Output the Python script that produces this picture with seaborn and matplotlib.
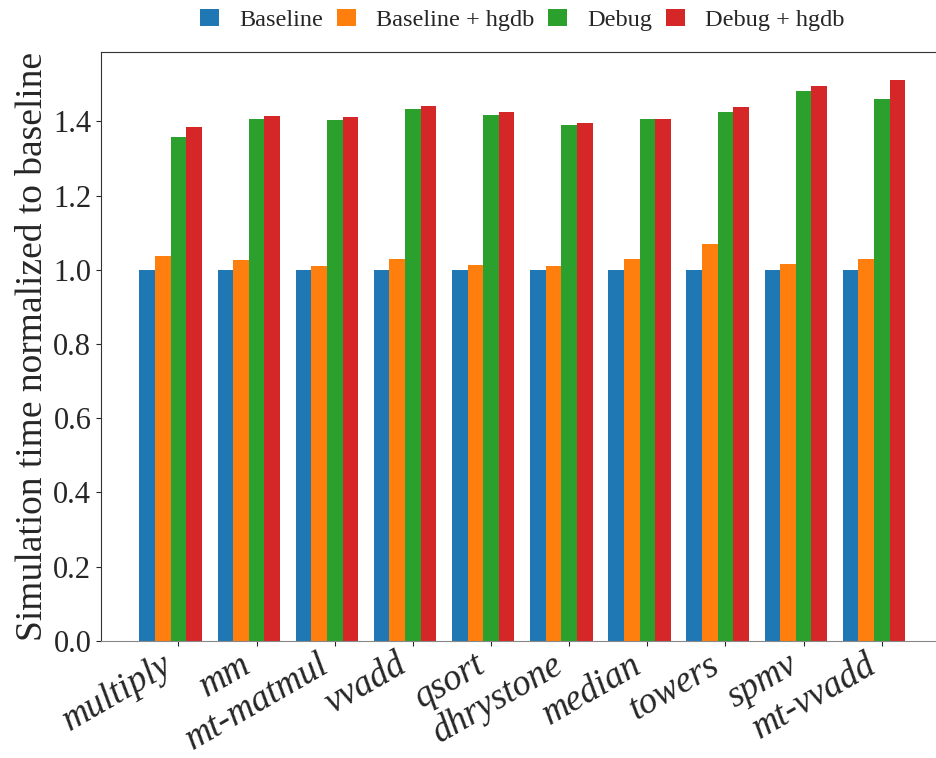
"""
Simulation time of each benchmark, normalized to the baseline run.
Grouped bars, one group per benchmark, saved to out.png.
"""

import numpy as np
import pandas as pd
import matplotlib
matplotlib.use("Agg")
import matplotlib.pyplot as plt
import seaborn as sns

BENCHMARKS = ["multiply", "mm", "mt-matmul", "vvadd", "qsort",
              "dhrystone", "median", "towers", "spmv", "mt-vvadd"]
CONFIGS    = ["Baseline", "Baseline + hgdb", "Debug", "Debug + hgdb"]

baseline      = [1.0, 1.0, 1.0, 1.0, 1.0, 1.0, 1.0, 1.0, 1.0, 1.0]
baseline_hgdb = [1.038, 1.026, 1.011, 1.029, 1.014,
                 1.011, 1.030, 1.068, 1.015, 1.030]
debug         = [1.359, 1.406, 1.404, 1.434, 1.418,
                 1.391, 1.406, 1.426, 1.483, 1.460]
debug_hgdb    = [1.385, 1.414, 1.411, 1.442, 1.424,
                 1.396, 1.406, 1.438, 1.495, 1.512]

YTICKS = [0.0, 0.2, 0.4, 0.6, 0.8, 1.0, 1.2, 1.4]
COLORS = ["#1f77b4", "#ff7f0e", "#2ca02c", "#d62728"]


def build_frame():
    rows = []
    for cfg, vals in zip(CONFIGS, [baseline, baseline_hgdb, debug, debug_hgdb]):
        for bench, v in zip(BENCHMARKS, vals):
            rows.append({"benchmark": bench, "config": cfg, "time": v})
    return pd.DataFrame(rows)


def main():
    df = build_frame()

    sns.set_style("ticks")
    plt.rcParams["font.family"] = ["Liberation Serif", "DejaVu Serif"]

    fig = plt.figure(figsize=(9.36, 7.58), dpi=100)
    # axes run slightly past the right edge, as in the cropped original
    ax = fig.add_axes([0.108, 0.1547, 0.9, 0.7771])

    sns.barplot(data=df, x="benchmark", y="time", hue="config",
                order=BENCHMARKS, hue_order=CONFIGS, palette=COLORS,
                saturation=1, width=0.8, linewidth=0, ax=ax)

    ymax = max(max(debug_hgdb), max(debug))
    ax.set_ylim(0, ymax * 1.05)
    ax.set_xlim(-0.89, len(BENCHMARKS) - 1 + 0.89)

    ax.set_xticks(np.arange(len(BENCHMARKS)) + 0.1)
    ax.set_xticklabels(BENCHMARKS, rotation=30, ha="right",
                       fontsize=26.5, fontstyle="italic")
    ax.tick_params(axis="x", pad=1.5)
    ax.set_yticks(YTICKS)
    ax.set_yticklabels([f"{t:.1f}" for t in YTICKS], fontsize=22)
    ax.set_xlabel("")
    ax.set_ylabel("Simulation time normalized to baseline", fontsize=27,
                  labelpad=2)

    for side in ["top", "left", "right"]:
        ax.spines[side].set_visible(True)
        ax.spines[side].set_color("#333333")
    ax.spines["bottom"].set_color("#888888")

    ax.legend(loc="lower center", bbox_to_anchor=(0.5, 1.01), ncol=4,
              frameon=False, fontsize=17.5, handlelength=0.78,
              handleheight=0.72, handletextpad=0.85, columnspacing=0.55,
              borderaxespad=0.2)

    fig.savefig("out.png", dpi=100)
    plt.close(fig)


if __name__ == "__main__":
    main()
